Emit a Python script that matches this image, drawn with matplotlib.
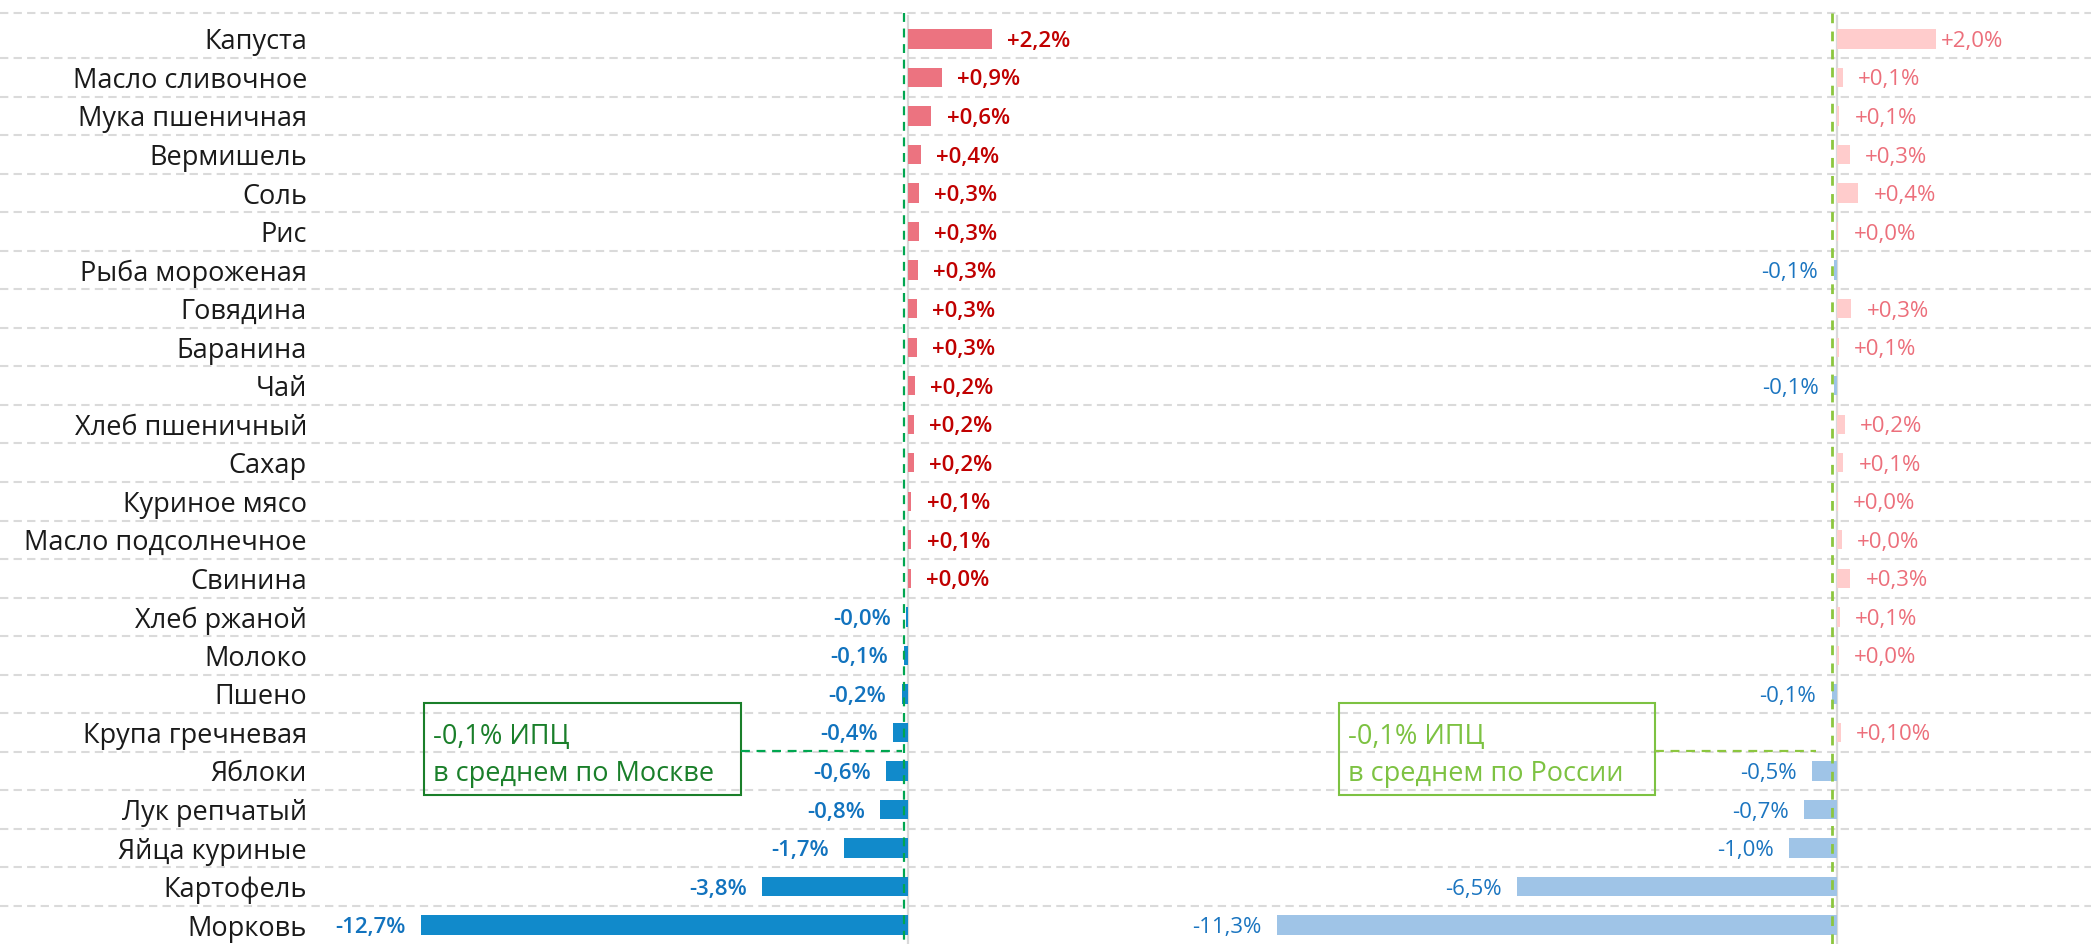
import numpy as np
import matplotlib.pyplot as plt
import matplotlib.transforms as mtransforms
from matplotlib.patches import Rectangle
from matplotlib.lines import Line2D

plt.rcParams['font.family'] = ['Open Sans', 'DejaVu Sans']

# данные: изменение цен, %
categories = ['Капуста', 'Масло сливочное', 'Мука пшеничная', 'Вермишель', 'Соль', 'Рис',
              'Рыба мороженая', 'Говядина', 'Баранина', 'Чай', 'Хлеб пшеничный', 'Сахар',
              'Куриное мясо', 'Масло подсолнечное', 'Свинина', 'Хлеб ржаной', 'Молоко',
              'Пшено', 'Крупа гречневая', 'Яблоки', 'Лук репчатый', 'Яйца куриные',
              'Картофель', 'Морковь']

moscow = [2.2, 0.9, 0.62, 0.34, 0.3, 0.29, 0.27, 0.25, 0.25, 0.19, 0.17, 0.16,
          0.1, 0.1, 0.08, -0.03, -0.1, -0.15, -0.37, -0.55, -0.72, -1.65, -3.8, -12.7]
moscow_labels = ['+2,2%', '+0,9%', '+0,6%', '+0,4%', '+0,3%', '+0,3%', '+0,3%', '+0,3%',
                 '+0,3%', '+0,2%', '+0,2%', '+0,2%', '+0,1%', '+0,1%', '+0,0%', '-0,0%',
                 '-0,1%', '-0,2%', '-0,4%', '-0,6%', '-0,8%', '-1,7%', '-3,8%', '-12,7%']

russia = [2.0, 0.13, 0.06, 0.27, 0.44, 0.04, -0.06, 0.3, 0.05, -0.05, 0.17, 0.14,
          0.03, 0.11, 0.28, 0.07, 0.05, -0.1, 0.09, -0.49, -0.65, -0.95, -6.45, -11.3]
russia_labels = ['+2,0%', '+0,1%', '+0,1%', '+0,3%', '+0,4%', '+0,0%', '-0,1%', '+0,3%',
                 '+0,1%', '-0,1%', '+0,2%', '+0,1%', '+0,0%', '+0,0%', '+0,3%', '+0,1%',
                 '+0,0%', '-0,1%', '+0,10%', '-0,5%', '-0,7%', '-1,0%', '-6,5%', '-11,3%']

moscow_avg = -0.1
russia_avg = -0.1

W, H = 2091, 944
fig = plt.figure(figsize=(W / 100, H / 100), dpi=100)


def fx(px):
    return px / W


def fy(py):
    return 1 - py / H


n = len(categories)
y = np.arange(n)

ax1 = fig.add_axes([0, 0, fx(1150), 1])
ax2 = fig.add_axes([fx(1150), 0, 1 - fx(1150), 1])
ax1.set_xlim(-907.5 / 38.3, (1150 - 907.5) / 38.3)
ax2.set_xlim(-(1836.5 - 1150) / 49.5, (W - 1836.5) / 49.5)

grid_y = [-0.68] + list(np.arange(0.5, n - 1, 1))
for ax in (ax1, ax2):
    ax.set_ylim(n - 0.51, -1.01)
    ax.axis('off')
    for g in grid_y:
        ax.axhline(g, color='#dadada', lw=1.5, dashes=(4, 2.5), zorder=0)
    ax.plot([0, 0], [-0.6, n], color='#d9d9d9', lw=1.6, zorder=1)

# Москва
col1 = ['#ec7380' if v >= 0 else '#118acb' for v in moscow]
ax1.barh(y, moscow, height=0.5, color=col1, zorder=2)
for i, (v, lab) in enumerate(zip(moscow, moscow_labels)):
    if v >= 0:
        ax1.annotate(lab, (v, i), xytext=(11, 0), textcoords='offset points',
                     ha='left', va='center_baseline', fontsize=16, fontweight='semibold',
                     color='#c00000')
    else:
        ax1.annotate(lab, (v, i), xytext=(-11, 0), textcoords='offset points',
                     ha='right', va='center_baseline', fontsize=16, fontweight='semibold',
                     color='#1273be')

# Россия
col2 = ['#ffcccc' if v >= 0 else '#9fc4e7' for v in russia]
ax2.barh(y, russia, height=0.5, color=col2, zorder=2)
for i, (v, lab) in enumerate(zip(russia, russia_labels)):
    off = 4 if v > 1 else 11
    if v >= 0:
        ax2.annotate(lab, (v, i), xytext=(off, 0), textcoords='offset points',
                     ha='left', va='center_baseline', fontsize=16, color='#ec6f7b')
    else:
        ax2.annotate(lab, (v, i), xytext=(-11, 0), textcoords='offset points',
                     ha='right', va='center_baseline', fontsize=16, color='#1b75c0')

# средние линии
ax1.plot([moscow_avg] * 2, [-0.68, n], color='#00a650', lw=1.6, dashes=(4, 3), zorder=3)
ax2.plot([russia_avg] * 2, [-0.68, n], color='#8cc63f', lw=2, dashes=(3.5, 3), zorder=3)

# подписи категорий
tr = mtransforms.blended_transform_factory(fig.transFigure, ax1.transData)
for i, c in enumerate(categories):
    ax1.text(fx(307), i, c, transform=tr, ha='right', va='center_baseline', fontsize=19.5,
             color='#1a1a1a')

# плашки ИПЦ
boxes = [(424, 741, 902, '#1a7f2a', '#00a650', 'в среднем по Москве', moscow_avg),
         (1339, 1655, 1816, '#7dc242', '#8cc63f', 'в среднем по России', russia_avg)]
for x0, x1, xend, ecol, lcol, txt, avg in boxes:
    fig.add_artist(Rectangle((fx(x0), fy(795)), fx(x1) - fx(x0), fy(703) - fy(795),
                             transform=fig.transFigure, fill=False, edgecolor=ecol, lw=1.5))
    fig.add_artist(Line2D([fx(x1), fx(xend)], [fy(751)] * 2, color=lcol, lw=1.6, dashes=(4, 3)))
    fig.text(fx(x0 + 9), fy(744), ('%.1f%% ИПЦ' % avg).replace('.', ','), fontsize=19.5,
             color=ecol, va='baseline')
    fig.text(fx(x0 + 9), fy(781), txt, fontsize=19.5, color=ecol, va='baseline')

fig.savefig('out.png', dpi=100)
